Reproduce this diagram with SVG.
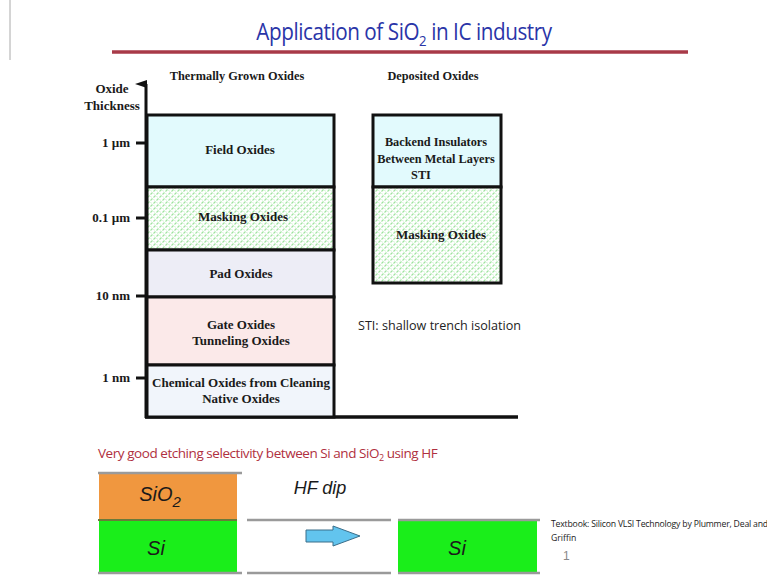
<svg xmlns="http://www.w3.org/2000/svg" width="767" height="575" viewBox="0 0 767 575">
  <style>
    .lbl { font-family: "Liberation Serif", "Times New Roman", serif; font-weight: bold; font-size: 13px; fill: #1a1a1a; text-anchor: middle; }
    .sm { font-size: 12.3px; }
    .tick { font-family: "Liberation Serif", "Times New Roman", serif; font-weight: bold; font-size: 13px; fill: #1a1a1a; text-anchor: end; }
    .layer { stroke: #111; stroke-width: 3; }
    .cal { font-family: "Open Sans", "Liberation Sans", sans-serif; }
    .ital { font-family: "Liberation Sans", Arial, sans-serif; font-style: italic; fill: #1a1a1a; text-anchor: middle; }
    .rule { stroke: #9a9a9a; stroke-width: 2.5; }
  </style>
  <defs>
    <pattern id="mask" width="6" height="6" patternUnits="userSpaceOnUse">
      <rect width="6" height="6" fill="#ffffff"/>
      <path d="M0.5,2.5 L2.5,0.5 M3.5,5.5 L5.5,3.5" stroke="#9ee49e" stroke-width="1.1"/>
      <path d="M3.5,1 L4.5,2.5 M0.5,4 L1.5,5.5" stroke="#c8f0c8" stroke-width="0.9"/>
    </pattern>
    <marker id="axisHead" markerWidth="8" markerHeight="12" refX="4" refY="11" orient="auto" markerUnits="userSpaceOnUse">
      <path d="M4,0 L8,12 L0,12 Z" fill="#111"/>
    </marker>
  </defs>

  <rect width="767" height="575" fill="#ffffff"/>
  <line x1="10" y1="0" x2="10" y2="60" stroke="#aaaaaa" stroke-width="1"/>

  <!-- Title (horizontally condensed) -->
  <g id="title">
    <g transform="translate(404,0) scale(0.88,1)">
      <text x="0" y="40" class="cal" font-size="23.5" fill="#2a35a8" text-anchor="middle" letter-spacing="-0.5">Application of SiO<tspan font-size="15" dy="6">2</tspan><tspan dy="-6"> in IC industry</tspan></text>
    </g>
    <line x1="112" y1="52" x2="688" y2="52" stroke="#a83a48" stroke-width="3.5"/>
  </g>

  <!-- Column headings -->
  <text x="237" y="80" class="lbl sm">Thermally Grown Oxides</text>
  <text x="433" y="80" class="lbl sm">Deposited Oxides</text>

  <!-- Axes -->
  <g id="axes">
    <text x="112" y="93" class="lbl">Oxide</text>
    <text x="112" y="110" class="lbl">Thickness</text>
    <line x1="146" y1="418" x2="146" y2="84" stroke="#111" stroke-width="3" marker-end="url(#axisHead)"/>
    <line x1="145" y1="417" x2="518" y2="417" stroke="#111" stroke-width="3.5"/>
    <line x1="136" y1="143" x2="146" y2="143" stroke="#111" stroke-width="3"/>
    <line x1="136" y1="218" x2="146" y2="218" stroke="#111" stroke-width="3"/>
    <line x1="136" y1="296" x2="146" y2="296" stroke="#111" stroke-width="3"/>
    <line x1="136" y1="378" x2="146" y2="378" stroke="#111" stroke-width="3"/>
    <text x="130" y="147" class="tick">1 µm</text>
    <text x="130" y="222" class="tick">0.1 µm</text>
    <text x="130" y="300" class="tick">10 nm</text>
    <text x="130" y="382" class="tick">1 nm</text>
  </g>

  <!-- Thermally grown oxides -->
  <g id="field-oxides">
    <rect x="147" y="115" width="187" height="72" fill="#e2fafd" class="layer"/>
    <text x="240" y="154" class="lbl">Field Oxides</text>
  </g>
  <g id="masking-oxides">
    <rect x="147" y="187" width="187" height="63" fill="url(#mask)" class="layer"/>
    <text x="243" y="221" class="lbl">Masking Oxides</text>
  </g>
  <g id="pad-oxides">
    <rect x="147" y="250" width="187" height="47" fill="#ededf6" class="layer"/>
    <text x="241" y="278" class="lbl">Pad Oxides</text>
  </g>
  <g id="gate-oxides">
    <rect x="147" y="297" width="187" height="68" fill="#fbe9e9" class="layer"/>
    <text x="241" y="329" class="lbl">Gate Oxides</text>
    <text x="241" y="345" class="lbl">Tunneling Oxides</text>
  </g>
  <g id="chemical-oxides">
    <rect x="147" y="365" width="187" height="52" fill="#f1f5fb" class="layer"/>
    <text x="241" y="387" class="lbl">Chemical Oxides from Cleaning</text>
    <text x="241" y="403" class="lbl">Native Oxides</text>
  </g>

  <!-- Deposited oxides -->
  <g id="backend-insulators">
    <rect x="373" y="115" width="128" height="72" fill="#e2fafd" class="layer"/>
    <text x="436" y="146" class="lbl sm">Backend Insulators</text>
    <text x="436" y="163" class="lbl sm">Between Metal Layers</text>
    <text x="421" y="179" class="lbl sm">STI</text>
  </g>
  <g id="deposited-masking">
    <rect x="373" y="187" width="128" height="96" fill="url(#mask)" class="layer"/>
    <text x="441" y="239" class="lbl">Masking Oxides</text>
  </g>

  <text x="358" y="330" class="cal" font-size="13.5" fill="#222" textLength="163" lengthAdjust="spacingAndGlyphs">STI: shallow trench isolation</text>

  <!-- HF dip illustration -->
  <text x="98" y="458" class="cal" font-size="13.5" fill="#b03040" letter-spacing="-0.45">Very good etching selectivity between Si and SiO<tspan font-size="9" dy="3">2</tspan><tspan dy="-3"> using HF</tspan></text>

  <g id="before">
    <rect x="99" y="473" width="138" height="47" fill="#f0973f"/>
    <rect x="99" y="520" width="138" height="53" fill="#1aee1a"/>
    <line x1="98" y1="473" x2="242" y2="473" class="rule"/>
    <line x1="98" y1="520" x2="237" y2="520" stroke="#6a7a3a" stroke-width="2"/>
    <line x1="98" y1="573" x2="242" y2="573" class="rule"/>
    <text x="160" y="501" class="ital" font-size="20">SiO<tspan font-size="15" dy="6">2</tspan></text>
    <text x="156" y="555" class="ital" font-size="20">Si</text>
  </g>

  <g id="hf-dip">
    <text x="320" y="494" class="ital" font-size="18">HF dip</text>
    <line x1="247" y1="520" x2="391" y2="520" class="rule"/>
    <line x1="247" y1="573" x2="391" y2="573" class="rule"/>
    <path d="M306,530 L333,530 L333,526 L360,536 L333,546 L333,542 L306,542 Z" fill="#62c4ee" stroke="#3b6e8a" stroke-width="1"/>
  </g>

  <g id="after">
    <rect x="398" y="520" width="139" height="53" fill="#1aee1a"/>
    <line x1="398" y1="520" x2="540" y2="520" class="rule"/>
    <line x1="398" y1="573" x2="540" y2="573" class="rule"/>
    <text x="457" y="555" class="ital" font-size="20">Si</text>
  </g>

  <text x="551" y="527" class="cal" font-size="8.7" fill="#222" letter-spacing="-0.2">Textbook: Silicon VLSI Technology by Plummer, Deal and</text>
  <text x="551" y="541" class="cal" font-size="8.7" fill="#222">Griffin</text>
  <text x="563" y="560" font-family="Liberation Sans, sans-serif" font-size="12" fill="#888">1</text>
</svg>
